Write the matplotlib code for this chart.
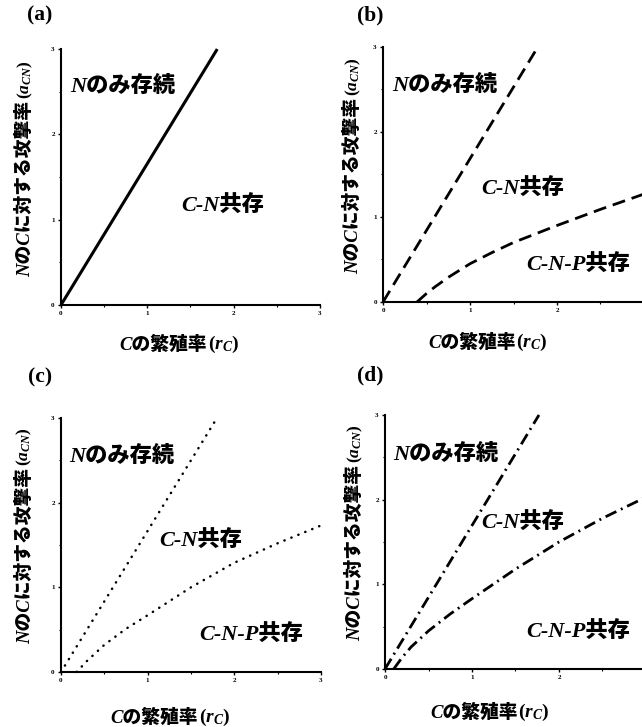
import matplotlib
matplotlib.use('Agg')
import matplotlib.pyplot as plt
import matplotlib.transforms as mtransforms

plt.rcParams['mathtext.fontset'] = 'custom'
plt.rcParams['mathtext.it'] = 'Liberation Serif:italic:bold'
plt.rcParams['mathtext.rm'] = 'Liberation Serif:bold'
plt.rcParams['mathtext.bf'] = 'Liberation Serif:bold'

# ---------------- data ----------------
tick_vals = [0, 1, 2, 3]
tick_labels = ['0', '1', '2', '3']
panel_labels = ['(a)', '(b)', '(c)', '(d)']

# boundary: N only  /  C-N coexistence
a_upper_r = [0.0, 1.81]
a_upper_a = [0.0, 3.0]
b_upper_r = [0.0, 1.78]
b_upper_a = [0.0, 3.0]
c_upper_r = [0.0, 1.80]
c_upper_a = [0.0, 3.0]
d_upper_r = [0.0, 1.77]
d_upper_a = [0.0, 3.0]

# boundary: C-N coexistence  /  C-N-P coexistence
b_lower_r = [0.39, 0.5, 0.6, 0.75, 1.0, 1.25, 1.5, 2.0, 2.5, 3.0]
b_lower_a = [0.0, 0.1, 0.18, 0.29, 0.45, 0.58, 0.7, 0.9, 1.09, 1.27]
c_lower_r = [0.18, 0.3, 0.5, 0.75, 1.0, 1.5, 2.0, 2.5, 3.0]
c_lower_a = [0.0, 0.13, 0.32, 0.51, 0.67, 1.0, 1.29, 1.52, 1.73]
d_lower_r = [0.1, 0.2, 0.3, 0.5, 0.75, 1.0, 1.5, 2.0, 2.5, 3.0]
d_lower_a = [0.0, 0.14, 0.26, 0.45, 0.65, 0.83, 1.18, 1.5, 1.78, 2.03]

region_N_only = 'Nのみ存続'
region_CN = 'C-N共存'
region_CNP = 'C-N-P共存'
xlabel_main = 'Cの繁殖率'
xlabel_sym = r'$(r_C)$'
ylabel_main = 'NのCに対する攻撃率'
ylabel_sym = r'$(a_{CN})$'

# ---------------- styling ----------------
FAM = ['Liberation Serif', 'Noto Sans CJK JP', 'DejaVu Sans']
STY_SOLID = dict(color='black', lw=2.2, solid_capstyle='butt')
STY_DASH = dict(color='black', lw=2.0, linestyle=(0, (4.7, 2.5)))
STY_DOT = dict(color='black', lw=1.8, linestyle=(0, (0.1, 2.9)), dash_capstyle='round')
STY_DASHDOT = dict(color='black', lw=2.0, linestyle=(0, (4.3, 1.8, 0.7, 1.8)))

fig = plt.figure(figsize=(6.42, 7.27), dpi=100)

axes_rects = [
    [0.095, 0.5805, 0.4034, 0.352],
    [0.5966, 0.5846, 0.4065, 0.3508],
    [0.095, 0.0757, 0.405, 0.3494],
    [0.5997, 0.0798, 0.4065, 0.3494],
]
right_side = [False, True, False, True]
label_pos = [(0.062, 0.979), (0.576, 0.979), (0.062, 0.481), (0.576, 0.483)]
xlabel_pos = [(0.68, -0.156), (0.52, -0.16), (0.57, -0.18), (0.52, -0.173)]
ylabel_x = [-0.139, -0.115, -0.139, -0.115]

axs = []
for i, rect in enumerate(axes_rects):
    ax = fig.add_axes(rect)
    ax.set_xlim(0, 3)
    ax.set_ylim(0, 3)
    for s in ['top', 'right']:
        ax.spines[s].set_visible(False)
    for s in ['left', 'bottom']:
        ax.spines[s].set_linewidth(1.5)
    # right-hand panels run past the page edge, so their x=3 tick is not visible
    nx = 3 if right_side[i] else 4
    ax.set_xticks(tick_vals[:nx])
    ax.set_xticklabels(tick_labels[:nx])
    ax.set_yticks(tick_vals)
    ax.set_yticklabels(tick_labels)
    ax.set_xticks([0.5, 1.5, 2.5], minor=True)
    ax.set_yticks([0.5, 1.5, 2.5], minor=True)
    ax.tick_params(which='major', direction='out', length=2.5, width=1.0,
                   labelsize=5, pad=2)
    ax.tick_params(which='minor', direction='out', length=1.5, width=0.8)
    for lab in ax.get_xticklabels() + ax.get_yticklabels():
        lab.set_family('Liberation Serif')
        lab.set_weight('bold')

    fig.text(label_pos[i][0], label_pos[i][1], panel_labels[i],
             family='Liberation Serif', weight='bold', fontsize=15.5,
             ha='center', va='center')

    # x label
    tr = mtransforms.blended_transform_factory(ax.transData, ax.transAxes)
    t2 = ax.text(xlabel_pos[i][0], xlabel_pos[i][1], xlabel_main, transform=tr,
                 ha='left', va='center', fontsize=13.5, fontweight=900,
                 fontstyle='italic', family=FAM)
    ax.annotate(xlabel_sym, xy=(1.0, 0.5), xycoords=t2, xytext=(0.5, 0),
                textcoords='offset points', ha='left', va='center', fontsize=14)

    # y label
    t1 = ax.text(ylabel_x[i], 0.11, ylabel_main, transform=ax.transAxes,
                 rotation=90, ha='center', va='bottom', fontsize=13.5,
                 fontweight=900, fontstyle='italic', family=FAM)
    ax.annotate(ylabel_sym, xy=(0.5, 1.0), xycoords=t1, xytext=(0, 1.5),
                textcoords='offset points', rotation=90, ha='center',
                va='bottom', fontsize=12.5)
    axs.append(ax)

def region(ax, x, y, s):
    ax.text(x, y, s, ha='center', va='center', fontsize=16, fontweight=900,
            fontstyle='italic', family=FAM)

# (a)
ax = axs[0]
ax.plot(a_upper_r, a_upper_a, clip_on=False, **STY_SOLID)
region(ax, 0.71, 2.56, region_N_only)
region(ax, 1.87, 1.17, region_CN)

# (b)
ax = axs[1]
ax.plot(b_upper_r, b_upper_a, clip_on=False, **STY_DASH)
ax.plot(b_lower_r, b_lower_a, clip_on=False, **STY_DASH)
region(ax, 0.71, 2.55, region_N_only)
region(ax, 1.6, 1.34, region_CN)
region(ax, 2.24, 0.44, region_CNP)

# (c)
ax = axs[2]
ax.plot(c_upper_r, c_upper_a, clip_on=False, **STY_DOT)
ax.plot(c_lower_r, c_lower_a, clip_on=False, **STY_DOT)
region(ax, 0.70, 2.54, region_N_only)
region(ax, 1.61, 1.56, region_CN)
region(ax, 2.19, 0.45, region_CNP)

# (d)
ax = axs[3]
ax.plot(d_upper_r, d_upper_a, clip_on=False, **STY_DASHDOT)
ax.plot(d_lower_r, d_lower_a, clip_on=False, **STY_DASHDOT)
region(ax, 0.70, 2.53, region_N_only)
region(ax, 1.58, 1.73, region_CN)
region(ax, 2.22, 0.44, region_CNP)

fig.savefig('out.png', dpi=100)
